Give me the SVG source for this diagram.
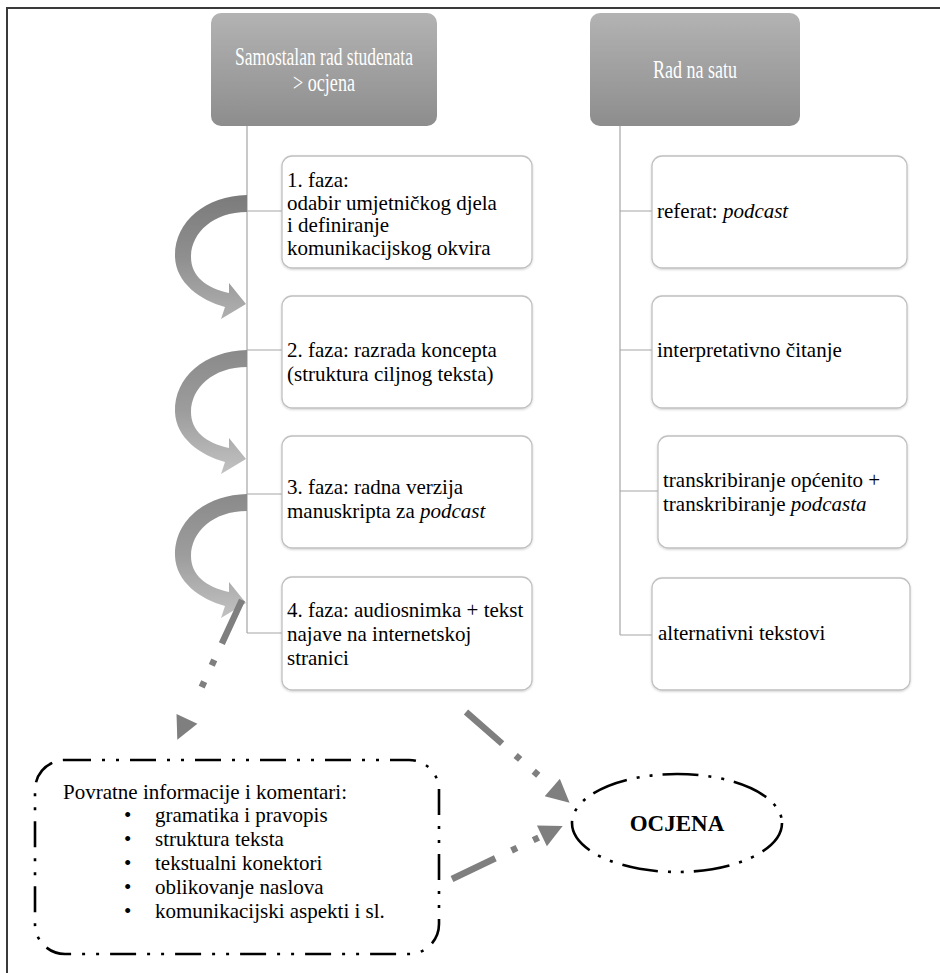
<svg xmlns="http://www.w3.org/2000/svg" width="940" height="973" viewBox="0 0 940 973">
<defs>
<linearGradient id="hdr" x1="0" y1="0" x2="0" y2="1"><stop offset="0" stop-color="#b3b3b3"/><stop offset="1" stop-color="#8d8d8d"/></linearGradient>
<linearGradient id="ca1" x1="0" y1="0" x2="0" y2="1"><stop offset="0" stop-color="#7b7b7b"/><stop offset="0.5" stop-color="#8f8f8f"/><stop offset="1" stop-color="#b0b0b0"/></linearGradient>
<linearGradient id="ca2" x1="0" y1="0" x2="0" y2="1"><stop offset="0" stop-color="#8a8a8a"/><stop offset="0.5" stop-color="#9d9d9d"/><stop offset="1" stop-color="#c2c2c2"/></linearGradient>
<marker id="ah" viewBox="0 0 10 10" refX="1" refY="5" markerUnits="userSpaceOnUse" markerWidth="25" markerHeight="23" orient="auto"><path d="M0,0 L10,5 L0,10 z" fill="#7f7f7f"/></marker>
<filter id="sh" x="-5%" y="-5%" width="110%" height="115%"><feDropShadow dx="0" dy="1" stdDeviation="1" flood-color="#000" flood-opacity="0.18"/></filter>
</defs>
<style>
.hbox{fill:url(#hdr)}
.box{fill:#fff;stroke:#c0c0c0;stroke-width:1.3}
.ht{font-family:"Liberation Serif",serif;font-size:25px;fill:#fff}
.t{font-family:"Liberation Serif",serif;font-size:21px;fill:#000}
.it{font-style:italic}
.ln{stroke:#a6a6a6;stroke-width:1.2;fill:none}
.gd{stroke:#7f7f7f;stroke-width:6.5;fill:none;stroke-dasharray:48 18 6 18 6 40}
.dd{fill:none;stroke:#000;stroke-width:2.6}
</style>
<path d="M7,973 V8 H940" fill="none" stroke="#3a3a3a" stroke-width="2"/>

<g id="connectors">
<path class="ln" d="M247,126 V633 M247,211 H282 M247,350 H282 M247,494 H282 M247,633 H282"/>
<path class="ln" d="M620,126 V635 M620,211 H652 M620,350 H652 M620,491 H658 M620,635 H652"/>
<path id="carrow1" fill="url(#ca1)" d="M247,195 C205,196 174,222 175,257 C176,283 200,300 225,307 L221,319 L246,304 L229,283 L229,293 C206,288 191,276 191,257 C191,233 213,212 247,212 Z"/>
<path id="carrow2" fill="url(#ca2)" transform="translate(0,155)" d="M247,195 C205,196 174,222 175,257 C176,283 200,300 225,307 L221,319 L246,304 L229,283 L229,293 C206,288 191,276 191,257 C191,233 213,212 247,212 Z"/>
<path id="carrow3" fill="url(#ca2)" transform="translate(0,299)" d="M247,195 C205,196 174,222 175,257 C176,283 200,300 225,307 L221,319 L246,304 L229,283 L229,293 C206,288 191,276 191,257 C191,233 213,212 247,212 Z"/>
<line class="gd" x1="242" y1="600" x2="186" y2="721" marker-end="url(#ah)"/>
<line class="gd" x1="466" y1="712" x2="554" y2="789" marker-end="url(#ah)"/>
<line class="gd" x1="452" y1="879" x2="544" y2="835" marker-end="url(#ah)"/>
</g>

<g id="h1"><rect class="hbox" x="211" y="13" width="226" height="113" rx="10"/>
<text class="ht" x="324" y="65" text-anchor="middle" textLength="178" lengthAdjust="spacingAndGlyphs">Samostalan rad studenata</text>
<text class="ht" x="324" y="91" text-anchor="middle" textLength="62" lengthAdjust="spacingAndGlyphs">&gt; ocjena</text></g>
<g id="h2"><rect class="hbox" x="590" y="13" width="210" height="113" rx="10"/>
<text class="ht" x="695" y="78" text-anchor="middle" textLength="84" lengthAdjust="spacingAndGlyphs">Rad na satu</text></g>

<g id="f1"><rect class="box" x="282" y="156" width="250" height="112" rx="10" filter="url(#sh)"/>
<text class="t" x="287" y="187">1. faza:</text>
<text class="t" x="287" y="210">odabir umjetničkog djela</text>
<text class="t" x="287" y="232">i definiranje</text>
<text class="t" x="287" y="255">komunikacijskog okvira</text></g>
<g id="f2"><rect class="box" x="282" y="296" width="250" height="112" rx="10" filter="url(#sh)"/>
<text class="t" x="287" y="357">2. faza: razrada koncepta</text>
<text class="t" x="287" y="381">(struktura ciljnog teksta)</text></g>
<g id="f3"><rect class="box" x="282" y="436" width="250" height="112" rx="10" filter="url(#sh)"/>
<text class="t" x="287" y="494">3. faza: radna verzija</text>
<text class="t" x="287" y="518">manuskripta za <tspan class="it">podcast</tspan></text></g>
<g id="f4"><rect class="box" x="282" y="577" width="250" height="113" rx="10" filter="url(#sh)"/>
<text class="t" x="287" y="617">4. faza: audiosnimka + tekst</text>
<text class="t" x="287" y="641">najave na internetskoj</text>
<text class="t" x="287" y="665">stranici</text></g>

<g id="r1"><rect class="box" x="652" y="156" width="255" height="112" rx="10" filter="url(#sh)"/>
<text class="t" x="657" y="218">referat: <tspan class="it">podcast</tspan></text></g>
<g id="r2"><rect class="box" x="652" y="296" width="255" height="112" rx="10" filter="url(#sh)"/>
<text class="t" x="657" y="357">interpretativno čitanje</text></g>
<g id="r3"><rect class="box" x="658" y="436" width="249" height="112" rx="10" filter="url(#sh)"/>
<text class="t" x="663" y="487">transkribiranje općenito +</text>
<text class="t" x="663" y="511">transkribiranje <tspan class="it">podcasta</tspan></text></g>
<g id="r4"><rect class="box" x="652" y="578" width="258" height="112" rx="10" filter="url(#sh)"/>
<text class="t" x="658" y="640">alternativni tekstovi</text></g>

<g id="feedback"><rect class="dd" x="35" y="760" width="404" height="194" rx="30" style="stroke-dasharray:26 11 3 11 3 11"/>
<text class="t" x="63" y="799">Povratne informacije i komentari:</text>
<text class="t" x="124" y="822">•</text><text class="t" x="155" y="822">gramatika i pravopis</text>
<text class="t" x="124" y="846">•</text><text class="t" x="155" y="846">struktura teksta</text>
<text class="t" x="124" y="870">•</text><text class="t" x="155" y="870">tekstualni konektori</text>
<text class="t" x="124" y="894">•</text><text class="t" x="155" y="894">oblikovanje naslova</text>
<text class="t" x="124" y="918">•</text><text class="t" x="155" y="918">komunikacijski aspekti i sl.</text></g>

<g id="ocjena"><ellipse class="dd" cx="677" cy="823" rx="105" ry="49" style="stroke-dasharray:36 10 3 10 3 10"/>
<text x="677" y="831" text-anchor="middle" font-family="Liberation Serif, serif" font-weight="bold" font-size="23" fill="#000">OCJENA</text></g>
</svg>
